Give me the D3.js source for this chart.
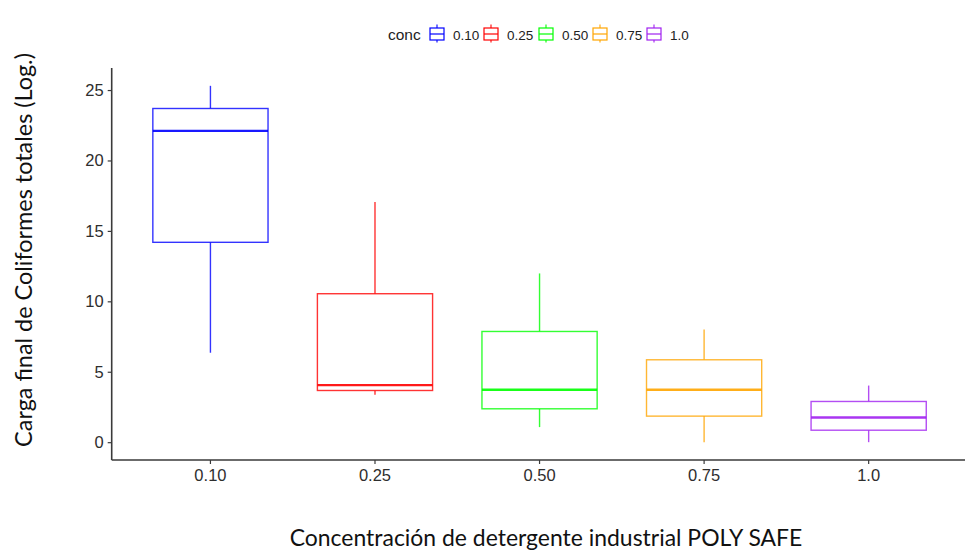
<!DOCTYPE html>
<html>
<head>
<meta charset="utf-8">
<script src="https://cdn.jsdelivr.net/npm/d3@7"></script>
<style>
  html, body { margin: 0; padding: 0; background: #ffffff; }
  svg { display: block; }
</style>
</head>
<body>
<svg id="chart" width="965" height="552"></svg>
<script>
// ---- data ----
const categories  = ["0.10", "0.25", "0.50", "0.75", "1.0"];
const whiskerLow  = [6.35, 3.36, 1.07, 0.0, 0.0];
const q1          = [14.19, 3.67, 2.37, 1.85, 0.85];
const median      = [22.1, 4.05, 3.72, 3.72, 1.75];
const q3          = [23.69, 10.54, 7.86, 5.85, 2.89];
const whiskerHigh = [25.3, 17.06, 11.98, 8.0, 4.02];
const colors      = ["#0000FF", "#FF0000", "#00FF00", "#FFA500", "#A020F0"];
const yTicks      = [0, 5, 10, 15, 20, 25];
const legendTitle = "conc";
const xTitle = "Concentración de detergente industrial POLY SAFE";
const yTitle = "Carga final de Coliformes totales (Log.)";

const rows = categories.map((c, i) => ({
  cat: c, lo: whiskerLow[i], q1: q1[i], med: median[i], q3: q3[i], hi: whiskerHigh[i], color: colors[i]
}));

const svg = d3.select("#chart");
const pLeft = 111.7, pRight = 967.4, pTop = 68, pBottom = 460;

const x = d3.scaleBand().domain(categories).range([pLeft, pRight]).paddingInner(0).paddingOuter(0.1);
const y = d3.scaleLinear().domain([-1.265, 26.565]).range([pBottom, pTop]);
const boxW = x.bandwidth() * 0.7;

// ---- boxes ----
const g = svg.append("g");
const box = g.selectAll("g.box").data(rows).enter().append("g").attr("class", "box");
const cx = d => x(d.cat) + x.bandwidth() / 2;

box.append("line")
  .attr("x1", cx).attr("x2", cx)
  .attr("y1", d => y(d.q3)).attr("y2", d => y(d.hi))
  .attr("stroke", d => d.color).attr("stroke-width", 1.4).attr("stroke-opacity", 0.8);
box.append("line")
  .attr("x1", cx).attr("x2", cx)
  .attr("y1", d => y(d.q1)).attr("y2", d => y(d.lo))
  .attr("stroke", d => d.color).attr("stroke-width", 1.4).attr("stroke-opacity", 0.8);
box.append("rect")
  .attr("x", d => cx(d) - boxW / 2).attr("width", boxW)
  .attr("y", d => y(d.q3)).attr("height", d => y(d.q1) - y(d.q3))
  .attr("fill", "#ffffff").attr("stroke", d => d.color).attr("stroke-width", 1.4).attr("stroke-opacity", 0.8);
box.append("line")
  .attr("x1", d => cx(d) - boxW / 2).attr("x2", d => cx(d) + boxW / 2)
  .attr("y1", d => y(d.med)).attr("y2", d => y(d.med))
  .attr("stroke", d => d.color).attr("stroke-width", 2.4).attr("stroke-opacity", 0.9);

// ---- axes ----
const axisColor = "#3a3a3a";
const yAxis = svg.append("g").attr("transform", `translate(${pLeft},0)`)
  .call(d3.axisLeft(y).tickValues(yTicks).tickSize(4).tickPadding(4));
const xAxis = svg.append("g").attr("transform", `translate(0,${pBottom})`)
  .call(d3.axisBottom(x).tickSize(4).tickPadding(5));
[yAxis, xAxis].forEach(a => {
  a.attr("font-size", null).attr("font-family", null);
  a.select(".domain").attr("stroke", axisColor).attr("stroke-width", 1.6);
  a.selectAll(".tick line").attr("stroke", axisColor).attr("stroke-width", 1.2);
  a.selectAll(".tick text").attr("fill", "#2e2e2e")
    .style("font-family", "'Liberation Sans', Arial, sans-serif").style("font-size", "16.5px");
});
yAxis.select(".domain").attr("d", `M0,${pBottom}V${pTop}`);
xAxis.select(".domain").attr("d", `M${pLeft},0H${pRight}`);

// ---- titles (font size fitted to the reference's text extents) ----
function fitText(sel, targetWidth) {
  const w = sel.node().getComputedTextLength();
  const fs = parseFloat(sel.style("font-size"));
  sel.style("font-size", (fs * targetWidth / w) + "px");
}
const xt = svg.append("text")
  .attr("x", 546).attr("y", 546)
  .attr("text-anchor", "middle")
  .style("font-family", "Lato, 'Open Sans', sans-serif").style("font-size", "20px")
  .attr("fill", "#111").text(xTitle);
fitText(xt, 513);
const yt = svg.append("text")
  .attr("transform", "translate(32,250) rotate(-90)")
  .attr("text-anchor", "middle")
  .style("font-family", "Lato, 'Open Sans', sans-serif").style("font-size", "20px")
  .attr("fill", "#111").text(yTitle);
fitText(yt, 394);

// ---- legend ----
const lg = svg.append("g");
lg.append("text").attr("x", 388).attr("y", 40)
  .style("font-family", "'Liberation Sans', Arial, sans-serif").style("font-size", "15.5px")
  .attr("fill", "#222").text(legendTitle);
const keyX = [430, 484, 539, 593, 647];
const key = lg.selectAll("g.key").data(rows).enter().append("g")
  .attr("transform", (d, i) => `translate(${keyX[i]},0)`);
key.append("line").attr("x1", 7).attr("x2", 7).attr("y1", 24.5).attr("y2", 42.5)
  .attr("stroke", d => d.color).attr("stroke-width", 1.1);
key.append("rect").attr("x", 0).attr("y", 28).attr("width", 14).attr("height", 12)
  .attr("fill", "#fff").attr("stroke", d => d.color).attr("stroke-width", 1.2);
key.append("line").attr("x1", 0).attr("x2", 14).attr("y1", 34).attr("y2", 34)
  .attr("stroke", d => d.color).attr("stroke-width", 1.2);
key.append("text").attr("x", 23).attr("y", 40)
  .style("font-family", "'Liberation Sans', Arial, sans-serif").style("font-size", "13.5px")
  .attr("fill", "#222").text(d => d.cat);
</script>
</body>
</html>
